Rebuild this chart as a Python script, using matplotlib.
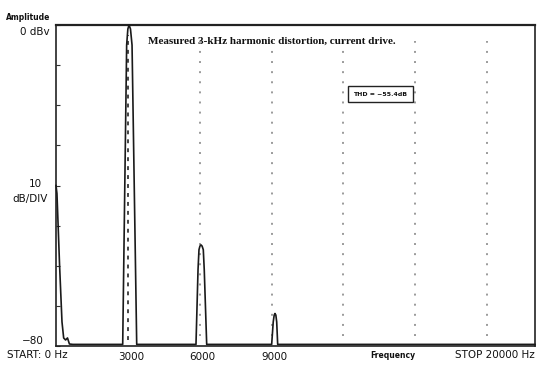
import matplotlib
matplotlib.use("Agg")
import matplotlib.pyplot as plt
from matplotlib.transforms import ScaledTranslation

# ---- data ----
freq_hz = [0, 40, 150, 250, 320, 400, 480, 560, 700,
           2785, 2950, 3000, 3050, 3110, 3175, 3370,
           5845, 5930, 5970, 6010, 6054, 6100, 6150, 6190, 6292,
           9005, 9070, 9110, 9143, 9180, 9215, 9256,
           20000]
level_db = [-40, -42, -60, -74, -78, -78.5, -78, -79.5, -79.6,
            -79.6, -5, -1, 0, -1, -5, -79.6,
            -79.6, -61, -56, -55.1, -54.8, -55.1, -56, -61, -79.6,
            -79.6, -74, -72.3, -71.9, -72.3, -74, -79.6,
            -79.6]
harmonics_hz = [3000, 6000, 9000, 12000, 15000, 18000]
xtick_vals = [3000, 6000, 9000]
xtick_labels = ["3000", "6000", "9000"]
ytick_vals = [-80, -70, -60, -50, -40, -30, -20, -10, 0]

W, H = 550, 371
fig = plt.figure(figsize=(W / 100, H / 100), dpi=100)
fig.patch.set_facecolor("white")
ax = fig.add_axes([56 / W, 1 - 346 / H, (535 - 56) / W, (346 - 25) / H])
ax.set_xlim(0, 20000)
ax.set_ylim(-80, 0)

# harmonic marker lines
for h in harmonics_hz[1:]:
    ax.axvline(h, ymin=0.03, ymax=0.95, color="#9a9a9a", lw=1.4, ls=(0, (1.0, 4.2)), zorder=1)
ax.axvline(harmonics_hz[0], ymin=0.02, ymax=0.97, color="#444444", lw=1.4, ls=(0, (2.0, 2.6)), zorder=1)

# trace
ax.plot(freq_hz, level_db, color="#1a1a1a", lw=1.2, zorder=3, clip_on=False)

# spines
for s in ax.spines.values():
    s.set_color("#222222")
    s.set_linewidth(1.2)
ax.spines["top"].set_linewidth(1.6)

ax.set_xticks(xtick_vals)
ax.set_xticklabels(xtick_labels, fontsize=7.5, color="#111111")
ax.tick_params(axis="x", length=0, pad=4)
for lbl in ax.get_xticklabels():
    lbl.set_transform(lbl.get_transform() + ScaledTranslation(3 / 100, 0, fig.dpi_scale_trans))
ax.set_yticks(ytick_vals)
ax.set_yticklabels([])
ax.tick_params(axis="y", direction="in", length=3, width=0.8, color="#333333")


def ftext(x, y, s, **kw):
    fig.text(x / W, 1 - y / H, s, **kw)


ftext(28, 17, "Amplitude", fontsize=5.5, fontweight="bold", ha="center", va="center", color="#111111")
ftext(50, 32, "0 dBv", fontsize=7.5, ha="right", va="center", color="#111111")
ftext(35, 184, "10", fontsize=7.5, ha="center", va="center", color="#111111")
ftext(30, 199, "dB/DIV", fontsize=7.5, ha="center", va="center", color="#111111")
ftext(44, 341, "\u221280", fontsize=7.5, ha="right", va="center", color="#111111")
ftext(7, 355, "START: 0 Hz", fontsize=7.5, ha="left", va="center", color="#111111")
ftext(393, 356, "Frequency", fontsize=5.5, fontweight="bold", ha="center", va="center", color="#111111")
ftext(535, 355, "STOP 20000 Hz", fontsize=7.5, ha="right", va="center", color="#111111")

ftext(148, 41, "Measured 3-kHz harmonic distortion, current drive.", fontsize=8,
      fontweight="bold", family="Liberation Serif", ha="left", va="center", color="#111111")

ftext(380.5, 94, "THD = \u221255.4dB", fontsize=4.5, fontweight="bold", ha="center", va="center",
      color="#111111",
      bbox=dict(boxstyle="square,pad=0.9", facecolor="white", edgecolor="#222222", linewidth=1.0))

fig.savefig("out.png", dpi=100, facecolor="white")
